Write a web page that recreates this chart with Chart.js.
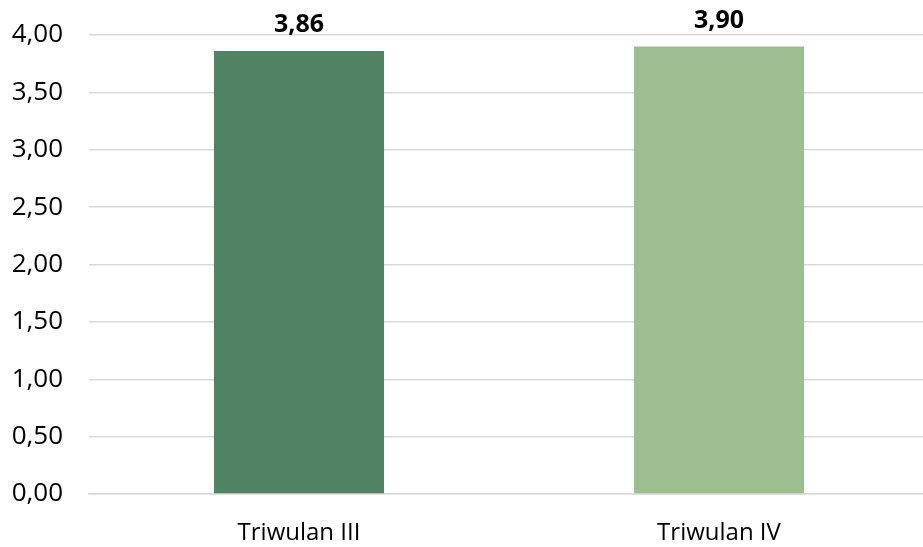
<!DOCTYPE html>
<html><head><meta charset="utf-8">
<script src="https://cdn.jsdelivr.net/npm/chart.js@4"></script>
<style>html,body{margin:0;padding:0;background:#fff;overflow:hidden}#wrap{width:929px;height:547px}</style>
</head><body><div id="wrap"><canvas id="c"></canvas></div>
<script>
const categories = ["Triwulan III", "Triwulan IV"];
const values = [3.86, 3.90];
const barColors = ["#518264", "#9BBF8F"];
const yMin = 0, yMax = 4, yStep = 0.5;

const fmt = v => v.toFixed(2).replace('.', ',');

const labelPlugin = {
  id: 'valLabels',
  afterDatasetsDraw(chart) {
    const ctx = chart.ctx;
    const meta = chart.getDatasetMeta(0);
    ctx.save();
    ctx.font = 'bold 25px "Open Sans"';
    ctx.fillStyle = '#000';
    ctx.textAlign = 'center';
    ctx.textBaseline = 'middle';
    meta.data.forEach((bar, i) => {
      ctx.fillText(fmt(values[i]), bar.x, bar.y - 26);
    });
    ctx.restore();
  }
};

new Chart(document.getElementById('c'), {
  type: 'bar',
  data: { labels: categories, datasets: [{ data: values, backgroundColor: barColors, barPercentage: 0.405, categoryPercentage: 1 }] },
  options: {
    responsive: true, maintainAspectRatio: false, animation: false,
    layout: { padding: { top: 35, left: 8, right: 0, bottom: 0 } },
    plugins: { legend: { display: false }, tooltip: { enabled: false } },
    scales: {
      x: {
        grid: { display: false }, border: { color: '#d9d9d9', width: 1.5 },
        ticks: { color: '#000', font: { family: 'Open Sans', size: 24 }, padding: 17 },
        afterFit(s) { s.height = 53; s.paddingLeft = 0; s.paddingRight = 0; }
      },
      y: {
        min: yMin, max: yMax,
        grid: { color: '#d9d9d9', lineWidth: 1.5, drawTicks: false },
        border: { display: false },
        ticks: { stepSize: yStep, color: '#000', font: { family: 'Open Sans', size: 26 }, padding: 26, callback: v => fmt(v) },
        afterFit(s) { s.width = 81; s.paddingTop = 0; s.paddingBottom = 0; }
      }
    }
  },
  plugins: [labelPlugin]
});
</script></body></html>
